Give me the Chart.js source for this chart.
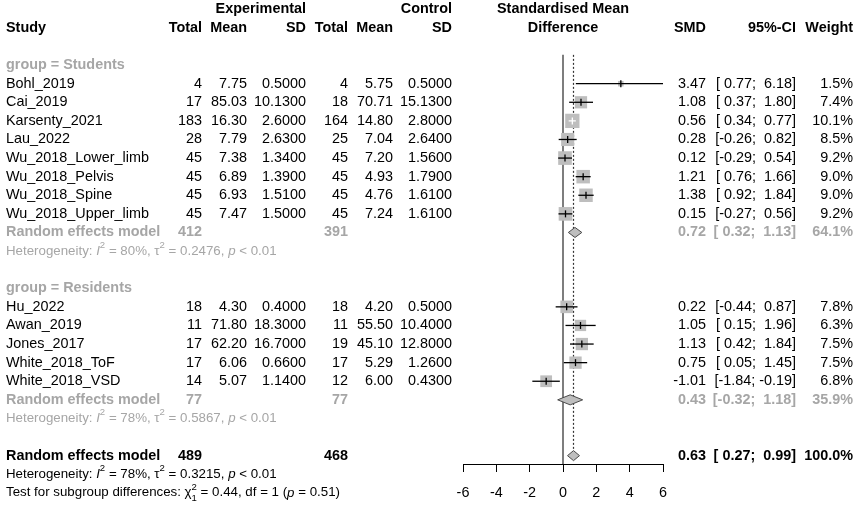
<!DOCTYPE html>
<html><head><meta charset="utf-8">
<script src="https://cdn.jsdelivr.net/npm/chart.js@4.4.0/dist/chart.umd.min.js"></script>
<style>html,body{margin:0;padding:0;background:#fff}canvas{display:block}</style>
</head><body>
<canvas id="c" width="858" height="509"></canvas>
<script>
// ---------------- DATA ----------------
const groupNames = ["Students", "Residents"];
const studies = ["Bohl_2019","Cai_2019","Karsenty_2021","Lau_2022","Wu_2018_Lower_limb","Wu_2018_Pelvis","Wu_2018_Spine","Wu_2018_Upper_limb","Hu_2022","Awan_2019","Jones_2017","White_2018_ToF","White_2018_VSD"];
const studyGroup = ["Students","Students","Students","Students","Students","Students","Students","Students","Residents","Residents","Residents","Residents","Residents"];
const expTotal = [4,17,183,28,45,45,45,45,18,11,17,17,14];
const expMean  = [7.75,85.03,16.30,7.79,7.38,6.89,6.93,7.47,4.30,71.80,62.20,6.06,5.07];
const expSD    = [0.5,10.13,2.6,2.63,1.34,1.39,1.51,1.5,0.4,18.3,16.7,0.66,1.14];
const ctrlTotal = [4,18,164,25,45,45,45,45,18,11,19,17,12];
const ctrlMean  = [5.75,70.71,14.80,7.04,7.20,4.93,4.76,7.24,4.20,55.50,45.10,5.29,6.00];
const ctrlSD    = [0.5,15.13,2.8,2.64,1.56,1.79,1.61,1.61,0.5,10.4,12.8,1.26,0.43];
const smd    = [3.47,1.08,0.56,0.28,0.12,1.21,1.38,0.15,0.22,1.05,1.13,0.75,-1.01];
const ciLow  = [0.77,0.37,0.34,-0.26,-0.29,0.76,0.92,-0.27,-0.44,0.15,0.42,0.05,-1.84];
const ciHigh = [6.18,1.80,0.77,0.82,0.54,1.66,1.84,0.56,0.87,1.96,1.84,1.45,-0.19];
const weight = [1.5,7.4,10.1,8.5,9.2,9.0,9.0,9.2,7.8,6.3,7.5,7.5,6.8];

const subExpTotal  = [412, 77];
const subCtrlTotal = [391, 77];
const subSMD  = [0.72, 0.43];
const subLow  = [0.32, -0.32];
const subHigh = [1.13, 1.18];
const subWeight = [64.1, 35.9];
const subI2   = ["80%", "78%"];
const subTau2 = ["0.2476", "0.5867"];
const subP    = ["< 0.01", "< 0.01"];

const allExpTotal = 489, allCtrlTotal = 468;
const allSMD = 0.63, allLow = 0.27, allHigh = 0.99, allWeight = 100.0;
const allI2 = "78%", allTau2 = "0.3215", allP = "< 0.01";
const testChi2 = "0.44", testDf = "1", testP = "0.51";

const xTickValues = [-6,-4,-2,0,2,4,6];
const xTickLabels = ["-6","-4","-2","0","2","4","6"];

// ---------------- LAYOUT / STYLE ----------------
const FAM = '"Liberation Sans", Arial, sans-serif';
const FS = 14.4, FS_SMALL = 13.3;
const GRAY = '#A6A6A6';
const SQ_FILL = '#BEBEBE';
const SQ_K = 4.5;           // square side (px) per sqrt(weight)
const DIA_H = 0.27;         // diamond half-height in rows
const Y_MIN = -0.5, Y_MAX = 24.45;
const COL = {study:6, eT:202, eM:247, eS:306, cT:348, cM:393, cS:452, smd:706, ci:796, w:853};

// row assignment
const rowOf = [], groupRows = [], subRERows = [], subHetRows = [];
let r = 3;
groupNames.forEach(g => {
  groupRows.push(r); r++;
  studies.forEach((s, i) => { if (studyGroup[i] === g) { rowOf[i] = r; r++; } });
  subRERows.push(r); r++;
  subHetRows.push(r); r++;
  r++;
});
const overallRow = r, overallHetRow = r + 1, testRow = r + 2;
const refTop = 2.45;

function side(i){ return SQ_K * Math.sqrt(weight[i]); }
function inside(chart, i){
  const xs = chart.scales.x;
  return (xs.getPixelForValue(ciHigh[i]) - xs.getPixelForValue(ciLow[i])) < side(i);
}

const datasets = [];
datasets.push({ data:[{x:0,y:refTop},{x:0,y:Y_MAX}], borderColor:'#3a3a3a', borderWidth:1.3, pointRadius:0, order:20 });
datasets.push({ data:[{x:allSMD,y:refTop},{x:allSMD,y:overallRow-DIA_H}], borderColor:'#333', borderWidth:1.2, borderDash:[2,2], pointRadius:0, order:19 });
datasets.push({ data: studies.map((s,i)=>({x:smd[i], y:rowOf[i]})), showLine:false,
  pointStyle:'rect', pointRadius: studies.map((s,i)=>side(i)/Math.SQRT2), pointBackgroundColor:SQ_FILL, pointBorderWidth:0, pointBorderColor:SQ_FILL, order:10 });
studies.forEach((s,i)=>{
  datasets.push({ data:[{x:ciLow[i],y:rowOf[i]},{x:ciHigh[i],y:rowOf[i]}], pointRadius:0,
    borderColor: ctx => inside(ctx.chart,i) ? '#ffffff' : '#000000', borderWidth:1.3, order:5 });
});
datasets.push({ data: studies.map((s,i)=>({x:smd[i], y:rowOf[i]})), showLine:false,
  pointStyle:'line', pointRotation:90, pointRadius:3.5, pointBorderWidth:1.3,
  pointBorderColor: ctx => inside(ctx.chart, ctx.dataIndex) ? '#ffffff' : '#000000', order:2 });
function diamond(lo, est, hi, row){
  return { data:[{x:lo,y:row},{x:est,y:row-DIA_H},{x:hi,y:row},{x:est,y:row+DIA_H},{x:lo,y:row}],
    fill:'shape', backgroundColor:SQ_FILL, borderColor:'#4a4a4a', borderWidth:1, pointRadius:0, tension:0, order:8 };
}
groupNames.forEach((g,gi)=> datasets.push(diamond(subLow[gi], subSMD[gi], subHigh[gi], subRERows[gi])));
datasets.push(diamond(allLow, allSMD, allHigh, overallRow));

// ---------------- TEXT ----------------
function pad(v){ return (v < 0 ? '' : ' ') + v.toFixed(2); }
function fmtCI(lo,hi){ return '[' + pad(lo) + '; ' + pad(hi) + ']'; }
function T(ctx, s, x, y, align, bold, color, size){
  ctx.font = (bold ? 'bold ' : '') + (size||FS) + 'px ' + FAM;
  ctx.fillStyle = color || '#000'; ctx.textAlign = align; ctx.textBaseline = 'middle';
  ctx.fillText(s, x, y);
}
function rich(ctx, segs, x, y, color, size){
  ctx.textBaseline = 'middle'; ctx.textAlign = 'left'; ctx.fillStyle = color;
  const sup = size*0.72;
  segs.forEach(sg => {
    if (sg.f === 'sup') {
      ctx.font = sup + 'px ' + FAM; ctx.fillText(sg.t, x, y - size*0.42); x += ctx.measureText(sg.t).width;
    } else if (sg.f === 'supsub') {
      ctx.font = sup + 'px ' + FAM;
      ctx.fillText(sg.t[0], x, y - size*0.42); ctx.fillText(sg.t[1], x, y + size*0.38);
      x += Math.max(ctx.measureText(sg.t[0]).width, ctx.measureText(sg.t[1]).width);
    } else {
      ctx.font = (sg.f === 'i' ? 'italic ' : '') + size + 'px ' + FAM;
      ctx.fillText(sg.t, x, y); x += ctx.measureText(sg.t).width;
    }
  });
}
function hetSegs(i2, tau2, p){
  return [{t:'Heterogeneity: '},{t:'I',f:'i'},{t:'2',f:'sup'},{t:' = '+i2+', \u03C4'},{t:'2',f:'sup'},{t:' = '+tau2+', '},{t:'p',f:'i'},{t:' '+p}];
}

const textPlugin = {
  id:'forestText',
  afterDraw(chart){
    const ctx = chart.ctx, ys = chart.scales.y, xs = chart.scales.x;
    const Y = row => ys.getPixelForValue(row);
    const x0 = xs.getPixelForValue(0);
    ctx.save();
    T(ctx,'Experimental',COL.eS,Y(0),'right',true);
    T(ctx,'Control',COL.cS,Y(0),'right',true);
    T(ctx,'Standardised Mean',x0,Y(0),'center',true);
    T(ctx,'Study',COL.study,Y(1),'left',true);
    T(ctx,'Total',COL.eT,Y(1),'right',true);
    T(ctx,'Mean',COL.eM,Y(1),'right',true);
    T(ctx,'SD',COL.eS,Y(1),'right',true);
    T(ctx,'Total',COL.cT,Y(1),'right',true);
    T(ctx,'Mean',COL.cM,Y(1),'right',true);
    T(ctx,'SD',COL.cS,Y(1),'right',true);
    T(ctx,'Difference',x0,Y(1),'center',true);
    T(ctx,'SMD',COL.smd,Y(1),'right',true);
    T(ctx,'95%-CI',COL.ci,Y(1),'right',true);
    T(ctx,'Weight',COL.w,Y(1),'right',true);
    groupNames.forEach((g,gi)=>{
      T(ctx,'group = '+g,COL.study,Y(groupRows[gi]),'left',true,GRAY);
      const rr = Y(subRERows[gi]);
      T(ctx,'Random effects model',COL.study,rr,'left',true,GRAY);
      T(ctx,String(subExpTotal[gi]),COL.eT,rr,'right',true,GRAY);
      T(ctx,String(subCtrlTotal[gi]),COL.cT,rr,'right',true,GRAY);
      T(ctx,subSMD[gi].toFixed(2),COL.smd,rr,'right',true,GRAY);
      T(ctx,fmtCI(subLow[gi],subHigh[gi]),COL.ci,rr,'right',true,GRAY);
      T(ctx,subWeight[gi].toFixed(1)+'%',COL.w,rr,'right',true,GRAY);
      rich(ctx,hetSegs(subI2[gi],subTau2[gi],subP[gi]),COL.study,Y(subHetRows[gi]),GRAY,FS_SMALL);
    });
    studies.forEach((s,i)=>{
      const y = Y(rowOf[i]);
      T(ctx,s,COL.study,y,'left');
      T(ctx,String(expTotal[i]),COL.eT,y,'right');
      T(ctx,expMean[i].toFixed(2),COL.eM,y,'right');
      T(ctx,expSD[i].toFixed(4),COL.eS,y,'right');
      T(ctx,String(ctrlTotal[i]),COL.cT,y,'right');
      T(ctx,ctrlMean[i].toFixed(2),COL.cM,y,'right');
      T(ctx,ctrlSD[i].toFixed(4),COL.cS,y,'right');
      T(ctx,smd[i].toFixed(2),COL.smd,y,'right');
      T(ctx,fmtCI(ciLow[i],ciHigh[i]),COL.ci,y,'right');
      T(ctx,weight[i].toFixed(1)+'%',COL.w,y,'right');
    });
    const yo = Y(overallRow);
    T(ctx,'Random effects model',COL.study,yo,'left',true);
    T(ctx,String(allExpTotal),COL.eT,yo,'right',true);
    T(ctx,String(allCtrlTotal),COL.cT,yo,'right',true);
    T(ctx,allSMD.toFixed(2),COL.smd,yo,'right',true);
    T(ctx,fmtCI(allLow,allHigh),COL.ci,yo,'right',true);
    T(ctx,allWeight.toFixed(1)+'%',COL.w,yo,'right',true);
    rich(ctx,hetSegs(allI2,allTau2,allP),COL.study,Y(overallHetRow),'#000',FS_SMALL);
    rich(ctx,[{t:'Test for subgroup differences: \u03C7'},{t:['2','1'],f:'supsub'},{t:' = '+testChi2+', df = '+testDf+' ('},{t:'p',f:'i'},{t:' = '+testP+')'}],COL.study,Y(testRow),'#000',FS_SMALL);
    ctx.restore();
  }
};

Chart.defaults.font.family = FAM;
new Chart(document.getElementById('c'), {
  type:'line',
  data:{ datasets },
  options:{
    responsive:false, animation:false, devicePixelRatio:1,
    layout:{ autoPadding:false, padding:{ left:463, right:195, top:0, bottom:0 } },
    plugins:{ legend:{display:false}, tooltip:{enabled:false} },
    elements:{ line:{ tension:0 } },
    scales:{
      x:{ type:'linear', min:-6, max:6, position:'bottom',
        afterBuildTicks: s => { s.ticks = xTickValues.map(v => ({value:v})); },
        ticks:{ callback: v => xTickLabels[xTickValues.indexOf(v)], color:'#000', font:{size:FS}, padding:12, maxRotation:0, autoSkip:false },
        grid:{ drawOnChartArea:false, drawTicks:true, tickLength:8, color:'#000', lineWidth:1 },
        border:{ display:true, color:'#000', width:1 },
        afterFit: s => { s.height = 45; }
      },
      y:{ type:'linear', display:false, min:Y_MIN, max:Y_MAX, reverse:true }
    }
  },
  plugins:[textPlugin]
});
</script>
</body></html>
